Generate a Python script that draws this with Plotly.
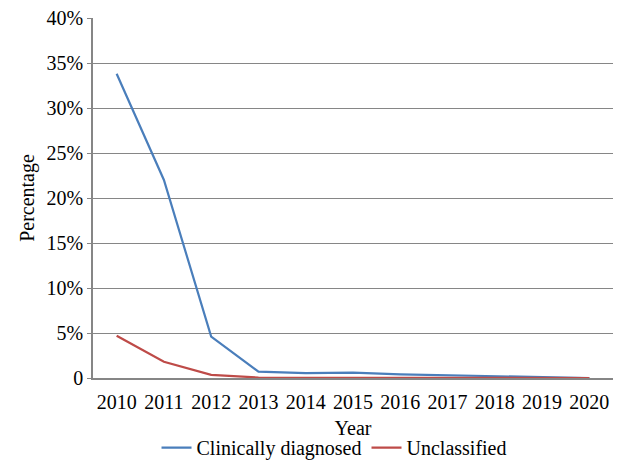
import plotly.graph_objects as go

years = ["2010", "2011", "2012", "2013", "2014", "2015", "2016", "2017", "2018", "2019", "2020"]
clinically_diagnosed = [33.8, 22.0, 4.6, 0.7, 0.55, 0.6, 0.4, 0.3, 0.2, 0.15, 0.0]
unclassified = [4.7, 1.8, 0.35, 0.05, 0.02, 0.02, 0.02, 0.02, 0.02, 0.02, 0.0]
y_ticks = [0, 5, 10, 15, 20, 25, 30, 35, 40]
y_tick_labels = ["0", "5%", "10%", "15%", "20%", "25%", "30%", "35%", "40%"]

ff = "Liberation Serif, serif"
fs = 20
txt = dict(family=ff, size=fs, color="black")

fig = go.Figure()
fig.add_trace(go.Scatter(x=years, y=clinically_diagnosed, mode="lines",
                         name="Clinically diagnosed",
                         line=dict(color="#4A7EBB", width=2.2)))
fig.add_trace(go.Scatter(x=years, y=unclassified, mode="lines",
                         name="Unclassified",
                         line=dict(color="#BE4B48", width=2.2)))

# page body has an 8px margin; the figure is sized to fit the 621x469 window
fig.update_layout(
    width=605, height=453,
    margin=dict(l=85, r=0, t=10, b=83, autoexpand=False),
    paper_bgcolor="white", plot_bgcolor="white",
    font=txt,
    showlegend=True,
    legend=dict(orientation="h", x=0.4635, xanchor="center", y=-0.139, yanchor="top",
                font=txt, itemwidth=30, tracegroupgap=0),
    xaxis=dict(
        title=dict(text="Year", standoff=9, font=txt),
        type="category", range=[-0.5, 10.5],
        showgrid=False, showline=True, linecolor="#868686",
        linewidth=1.5, ticks="", tickfont=txt, zeroline=False,
        ticklabelstandoff=5, automargin=False, ticklabeloverflow="allow",
    ),
    yaxis=dict(
        title=dict(text="Percentage", standoff=7, font=txt),
        range=[0, 40], tickvals=y_ticks, ticktext=y_tick_labels,
        showgrid=True, gridcolor="#868686", gridwidth=1.3,
        showline=True, linecolor="#868686", linewidth=1.5,
        ticks="outside", ticklen=4, tickcolor="#868686", tickwidth=1.3,
        tickfont=txt, zeroline=False, ticklabelstandoff=0,
        automargin=False, ticklabeloverflow="allow",
    ),
)

fig.write_html("out.html")
